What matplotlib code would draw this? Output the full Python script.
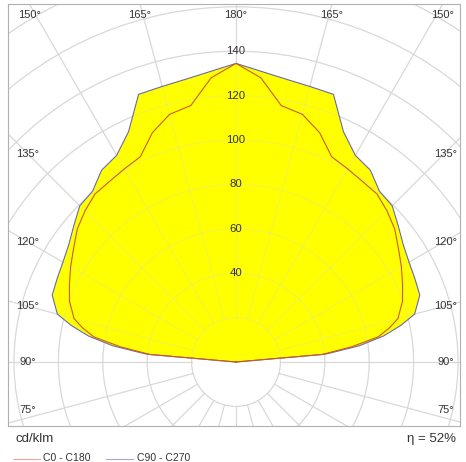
import matplotlib.pyplot as plt
import numpy as np
from matplotlib.patches import Circle
from matplotlib.lines import Line2D

# gamma angles (deg, 0 = nadir, 180 = zenith) and intensities in cd/klm
gamma = [90, 95, 97.5, 100, 102.5, 105, 110, 115, 120, 125, 130, 135,
         140, 145, 150, 155, 160, 165, 170, 175, 180]
c0_c180 = [0, 39, 52.5, 65, 70.7, 75.5, 79.8, 82.8, 86, 89.3, 93.3, 96.2,
           98.8, 99.3, 100.5, 102, 110, 115.5, 117.3, 128.5, 134.5]
c90_c270 = [0, 40.5, 56, 67.5, 76, 83.3, 88.1, 88.9, 90, 92, 95.4, 99.5,
            100.5, 105.5, 107.5, 114.5, 128.3, 128.5, 129.4, 131.4, 134.5]

ring_values = [20, 40, 60, 80, 100, 120, 140, 160, 180]
ring_labels = [40, 60, 80, 100, 120, 140]
top_angles = [150, 165, 180]
side_angles = [135, 120, 105, 90, 75]
efficiency = 52

plt.rcParams['font.family'] = ['Liberation Sans', 'DejaVu Sans']

PX = 2.22  # pixels per cd/klm


def to_xy(g, vals):
    """Mirror a half curve into a closed symmetric polygon"""
    g = np.radians(np.asarray(g, dtype=float))
    v = np.asarray(vals, dtype=float)
    xr, yr = v * np.sin(g), -v * np.cos(g)
    return np.concatenate([xr, -xr[::-1]]), np.concatenate([yr, yr[::-1]])


def draw_grid(ax, **kw):
    for r in ring_values:
        ax.add_patch(Circle((0, 0), r, fill=False, **kw))
    for a in np.arange(0, 360, 15):
        t = np.radians(a)
        ax.plot([20 * np.sin(t), 200 * np.sin(t)],
                [-20 * np.cos(t), -200 * np.cos(t)], **kw)


fig = plt.figure(figsize=(4.66, 4.62), dpi=100)
ax = fig.add_axes([8 / 466, 36 / 462, 452 / 466, 422 / 462])
ax.set_xlim(-228 / PX, 224 / PX)
ax.set_ylim(-64 / PX, 358 / PX)
ax.set_xticks([])
ax.set_yticks([])
for s in ax.spines.values():
    s.set_color('#b0b0b0')
    s.set_linewidth(0.8)

# grid under the fill, then a faint copy over it
draw_grid(ax, color='#d8d8d8', lw=0.8, zorder=0)

# luminous intensity curves
xb, yb = to_xy(gamma, c90_c270)
ax.fill(xb, yb, color='#ffff00', zorder=1, lw=0)
draw_grid(ax, color='#d8d8d8', lw=0.8, alpha=0.3, zorder=2)
ax.plot(xb, yb, color='#6a6aa8', lw=0.8, zorder=4)
xr, yr = to_xy(gamma, c0_c180)
ax.plot(xr, yr, color='#cc5a1e', lw=0.8, zorder=5)

for r in ring_labels:
    ax.text(0, r, str(r), ha='center', va='center', fontsize=8.2,
            color='#333333', zorder=6)

# angle labels
y1 = ax.get_ylim()[1]
top_y = (362 - 15) / PX
side_x = (236 - 28) / PX
for a in top_angles:
    t = np.radians(a)
    dx = np.tan(t) * y1
    for sgn in ([1] if a == 180 else [-1, 1]):
        ax.text(sgn * dx, top_y, f'{a}°', ha='center', va='center',
                fontsize=8, color='#333333', zorder=6)
for a in side_angles:
    t = np.radians(a)
    yy = -np.cos(t) / np.sin(t) * side_x
    yy = min(max(yy, (362 - 410) / PX), top_y)
    for sgn in [-1, 1]:
        ax.text(sgn * side_x + (1.5 if sgn > 0 else 0) / PX, yy, f'{a}°',
                ha='center', va='center', fontsize=8, color='#333333', zorder=6)

# legend and footer
fig.text(15 / 466, 1 - 439 / 462, 'cd/klm', fontsize=9.5, color='#333333',
         ha='left', va='center')
fig.text(456 / 466, 1 - 439 / 462, f'η = {efficiency}%', fontsize=9.5,
         color='#333333', ha='right', va='center')
fig.add_artist(Line2D([13 / 466, 40 / 466], [1 - 459 / 462] * 2,
                      color='#eea898', lw=0.8))
fig.text(43 / 466, 1 - 458 / 462, 'C0 - C180', fontsize=7.5, color='#333333',
         ha='left', va='center')
fig.add_artist(Line2D([106 / 466, 133 / 466], [1 - 459 / 462] * 2,
                      color='#a8a8cc', lw=0.8))
fig.text(137 / 466, 1 - 458 / 462, 'C90 - C270', fontsize=7.5, color='#333333',
         ha='left', va='center')

plt.savefig('out.png', dpi=100)
